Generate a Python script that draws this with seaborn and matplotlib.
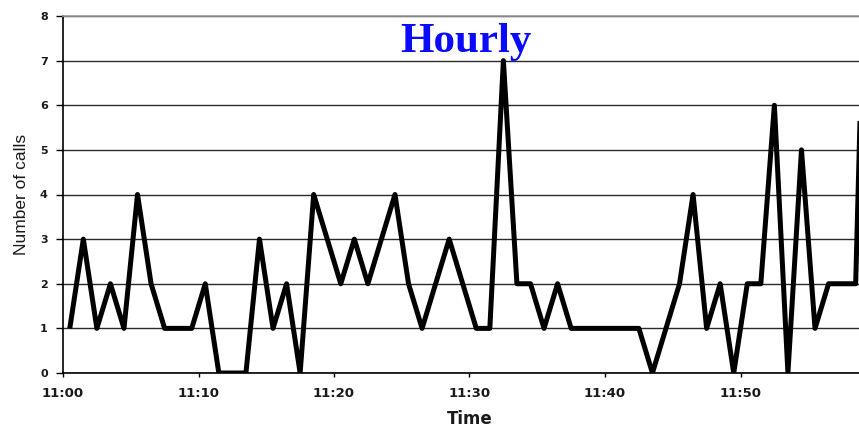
import numpy as np
import pandas as pd
import matplotlib
matplotlib.use("Agg")
import matplotlib.pyplot as plt
from matplotlib.transforms import ScaledTranslation
import seaborn as sns

# Calls counted per minute between 11:00 and 12:00
calls = [1, 3, 1, 2, 1, 4, 2, 1, 1, 1,
         2, 0, 0, 0, 3, 1, 2, 0, 4, 3,
         2, 3, 2, 3, 4, 2, 1, 2, 3, 2,
         1, 1, 7, 2, 2, 1, 2, 1, 1, 1,
         1, 1, 1, 0, 1, 2, 4, 1, 2, 0,
         2, 2, 6, 0, 5, 1, 2, 2, 2, 6]
# Sample time in minutes after 11:00
minutes = [i + 0.5 for i in range(59)] + [58.85]

tick_minutes = [0, 10, 20, 30, 40, 50]
tick_labels = ["11:00", "11:10", "11:20", "11:30", "11:40", "11:50"]

df = pd.DataFrame({"minute": minutes, "calls": calls})

sns.set_theme(style="white")
plt.rcParams["font.family"] = ["DejaVu Sans"]

fig = plt.figure(figsize=(8.59, 4.26), dpi=100)
W, H = 859, 426
left_px, right_px, top_px, bottom_px = 63, 876, 16, 373
ax = fig.add_axes([left_px / W, 1 - bottom_px / H,
                   (right_px - left_px) / W, (bottom_px - top_px) / H])

sns.lineplot(data=df, x="minute", y="calls", ax=ax, color="black",
             linewidth=3.6, solid_joinstyle="round", solid_capstyle="butt")

ax.set_xlim(0, 60)
ax.set_ylim(0, 8)
ax.set_yticks(range(0, 9))
ax.set_yticklabels([str(v) for v in range(0, 9)], fontsize=8,
                   fontweight="bold", color="#1a1a1a")
ax.set_xticks(tick_minutes)
ax.set_xticklabels(tick_labels, fontsize=9.5, fontweight="bold",
                   color="#1a1a1a")
for lab in ax.get_xticklabels():
    lab.set_transform(lab.get_transform() +
                      ScaledTranslation(8 / 100, 0, fig.dpi_scale_trans))

ax.tick_params(axis="y", direction="out", length=5, width=1, color="black",
               pad=6, left=True)
ax.tick_params(axis="x", direction="out", length=3, width=1, color="black",
               pad=7, bottom=True)

ax.yaxis.grid(True, color="#2a2a2a", linewidth=1.0)
ax.xaxis.grid(False)
ax.set_axisbelow(True)

for side in ("left", "bottom"):
    ax.spines[side].set_color("black")
    ax.spines[side].set_linewidth(1.2)
ax.spines["top"].set_color("#9a9a9a")
ax.spines["top"].set_linewidth(1.2)
ax.spines["top"].set_zorder(3)
ax.spines["right"].set_visible(False)

ax.set_ylabel("Number of calls", fontsize=12.5, color="#1a1a1a",
              labelpad=8, family=["Liberation Sans", "DejaVu Sans"])
ax.set_xlabel("Time", fontsize=12, fontweight="bold", color="#1a1a1a",
              labelpad=7)

fig.text(466 / W, 1 - 52 / H, "Hourly", ha="center", va="baseline",
         fontsize=31, fontweight="bold", color="#0a0aff",
         family=["Liberation Serif", "DejaVu Serif"])

fig.savefig("out.png", dpi=100, facecolor="white")
